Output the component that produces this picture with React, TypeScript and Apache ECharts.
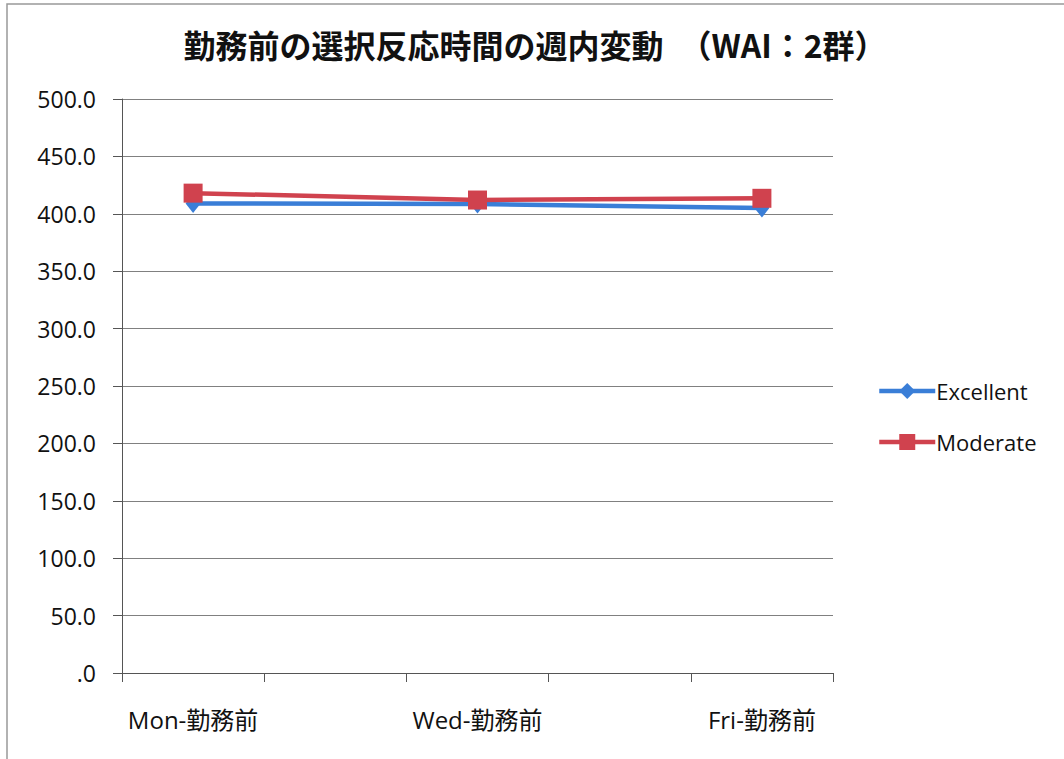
import React, { useEffect, useRef } from "react";
import * as echarts from "echarts";

const titleText = "勤務前の選択反応時間の週内変動　（WAI：2群）";
const categories = ["Mon-勤務前", "", "Wed-勤務前", "", "Fri-勤務前"];
const excellent: (number | null)[] = [409, null, 408.5, null, 405];
const moderate: (number | null)[] = [418, null, 412, null, 413.5];
const seriesNames = ["Excellent", "Moderate"];

export default function App() {
  const ref = useRef<HTMLDivElement>(null);
  useEffect(() => {
    if (!ref.current) return;
    const chart = echarts.init(ref.current, undefined, { renderer: "svg" });
    const font = "'Open Sans', 'Noto Sans CJK JP', sans-serif";
    chart.setOption({
      animation: false,
      backgroundColor: "#ffffff",
      title: {
        text: titleText,
        left: 530,
        textAlign: "center",
        top: 23,
        textStyle: {
          fontFamily: "'Noto Sans CJK JP', sans-serif",
          fontSize: 32,
          fontWeight: "bold",
          color: "#111111",
        },
      },
      graphic: [
        {
          type: "rect",
          shape: { x: 7, y: 4, width: 1070, height: 780 },
          style: { fill: "none", stroke: "#999999", lineWidth: 1.5 },
          silent: true,
        },
      ],
      legend: {
        orient: "vertical",
        left: 872,
        top: 375,
        itemWidth: 56,
        itemHeight: 20,
        itemGap: 29,
        lineStyle: { width: 4.5 },
        textStyle: { fontFamily: font, fontSize: 22, color: "#111111", padding: [0, 0, 0, -4] },
        data: seriesNames,
      },
      grid: { left: 122, right: 231, top: 99, bottom: 86, containLabel: false },
      xAxis: {
        type: "category",
        data: categories,
        boundaryGap: true,
        axisLine: { lineStyle: { color: "#555555", width: 1 } },
        axisTick: { show: true, interval: 0, length: 9, lineStyle: { color: "#555555" } },
        axisLabel: { interval: 0, fontFamily: font, fontSize: 24, color: "#111111", margin: 34 },
        splitLine: { show: false },
      },
      yAxis: {
        type: "value",
        min: 0,
        max: 500,
        interval: 50,
        axisLine: { show: true, lineStyle: { color: "#555555", width: 1 } },
        axisTick: { show: true, length: 9, lineStyle: { color: "#555555" } },
        axisLabel: {
          fontFamily: font,
          fontSize: 23,
          color: "#111111",
          margin: 26,
          formatter: (v: number) => (v === 0 ? ".0" : v.toFixed(1)),
        },
        splitLine: { lineStyle: { color: "#808080", width: 1 } },
      },
      series: [
        {
          name: seriesNames[0],
          type: "line",
          data: excellent,
          connectNulls: true,
          symbol: "diamond",
          symbolSize: [15, 19],
          lineStyle: { color: "#3a7ed7", width: 4.5 },
          itemStyle: { color: "#3a7ed7" },
        },
        {
          name: seriesNames[1],
          type: "line",
          data: moderate,
          connectNulls: true,
          symbol: "rect",
          symbolSize: 19,
          lineStyle: { color: "#d0424e", width: 4.5 },
          itemStyle: { color: "#d0424e" },
        },
      ],
    });
    return () => chart.dispose();
  }, []);
  return <div ref={ref} style={{ width: 1064, height: 759, position: "absolute", left: 0, top: 0 }} />;
}
